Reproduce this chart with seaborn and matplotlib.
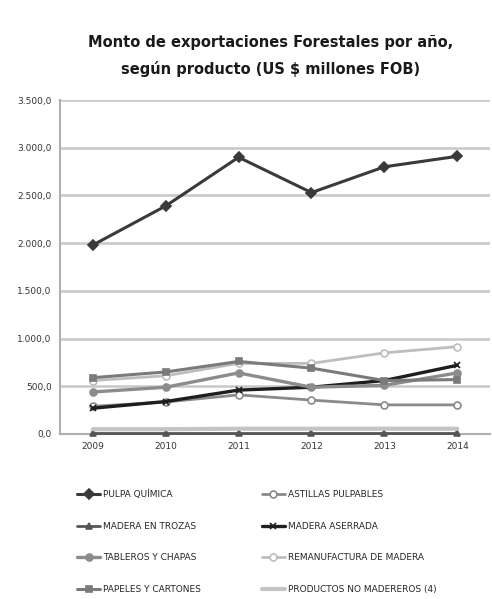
import matplotlib
matplotlib.use("Agg")
import matplotlib.pyplot as plt
import pandas as pd
import seaborn as sns
from matplotlib.ticker import FuncFormatter

YEARS = [2009, 2010, 2011, 2012, 2013, 2014]

PULPA_QUIMICA = [1980, 2390, 2900, 2530, 2800, 2910]
ASTILLAS_PULPABLES = [290, 335, 410, 355, 305, 305]
MADERA_EN_TROZAS = [10, 10, 10, 10, 10, 10]
MADERA_ASERRADA = [270, 340, 460, 490, 560, 720]
TABLEROS_Y_CHAPAS = [440, 490, 640, 490, 510, 640]
REMANUFACTURA = [560, 610, 740, 740, 850, 915]
PAPELES_Y_CARTONES = [590, 650, 760, 690, 560, 570]
NO_MADEREROS = [50, 50, 55, 55, 55, 55]

SERIES = [
    ("PULPA QUÍMICA", PULPA_QUIMICA),
    ("ASTILLAS PULPABLES", ASTILLAS_PULPABLES),
    ("MADERA EN TROZAS", MADERA_EN_TROZAS),
    ("MADERA ASERRADA", MADERA_ASERRADA),
    ("TABLEROS Y CHAPAS", TABLEROS_Y_CHAPAS),
    ("REMANUFACTURA DE MADERA", REMANUFACTURA),
    ("PAPELES Y CARTONES", PAPELES_Y_CARTONES),
    ("PRODUCTOS NO MADEREROS (4)", NO_MADEREROS),
]

# color, marker, line width, filled marker
STYLE = {
    "PULPA QUÍMICA": ("#3a3a3a", "D", 2.2, True),
    "ASTILLAS PULPABLES": ("#8a8a8a", "o", 2.0, False),
    "MADERA EN TROZAS": ("#555555", "^", 2.0, True),
    "MADERA ASERRADA": ("#1e1e1e", "x", 2.4, True),
    "TABLEROS Y CHAPAS": ("#8c8c8c", "o", 2.4, True),
    "REMANUFACTURA DE MADERA": ("#bdbdbd", "o", 2.0, False),
    "PAPELES Y CARTONES": ("#7a7a7a", "s", 2.2, True),
    "PRODUCTOS NO MADEREROS (4)": ("#c4c4c4", None, 3.0, True),
}

rows = []
for name, vals in SERIES:
    for y, v in zip(YEARS, vals):
        rows.append({"anio": y, "valor": v, "producto": name})
df = pd.DataFrame(rows)

sns.set_theme(style="white")
plt.rcParams["font.family"] = ["DejaVu Sans"]

fig = plt.figure(figsize=(4.92, 5.99), dpi=100)
ax = fig.add_axes([0.122, 0.2755, 0.874, 0.5575])

for name, _ in SERIES:
    color, marker, lw, filled = STYLE[name]
    sub = df[df["producto"] == name]
    sns.lineplot(
        data=sub, x="anio", y="valor", ax=ax, color=color, linewidth=lw,
        marker=marker, markersize=5, markeredgecolor=color,
        markerfacecolor=color if filled else "white",
        markeredgewidth=1.2, label=name, clip_on=False, zorder=3,
    )

ax.set_ylim(0, 3500)
ax.set_xlim(2008.55, 2014.45)
ax.set_yticks(range(0, 3501, 500))
ax.set_xticks(YEARS)
ax.yaxis.set_major_formatter(FuncFormatter(
    lambda v, _: f"{v:,.1f}".replace(",", "X").replace(".", ",").replace("X", ".")
))
ax.grid(axis="y", color="#c8c8c8", linewidth=1.8)
ax.set_axisbelow(True)
for side in ["top", "right"]:
    ax.spines[side].set_visible(False)
ax.spines["left"].set_color("#b0b0b0")
ax.spines["bottom"].set_color("#b0b0b0")
ax.spines["left"].set_linewidth(1.5)
ax.spines["bottom"].set_linewidth(1.5)
ax.tick_params(axis="both", labelsize=6.5, colors="#333333", length=0, pad=6)
ax.set_xlabel("")
ax.set_ylabel("")

ax.get_legend().remove()
handles, labels = ax.get_legend_handles_labels()
order = [0, 2, 4, 6, 1, 3, 5, 7]
fig.legend(
    [handles[i] for i in order], [labels[i] for i in order],
    ncol=2, loc="upper left", bbox_to_anchor=(0.14, 0.196),
    frameon=False, fontsize=6.5, handlelength=2.6, handletextpad=0.3,
    labelspacing=2.5, columnspacing=6.7,
)

fig.text(0.55, 0.907, "Monto de exportaciones Forestales por año,\nsegún producto (US $ millones FOB)",
         ha="center", va="center", fontsize=10.5, fontweight="bold",
         linespacing=1.85, color="#1a1a1a")

fig.savefig("out.png", dpi=100)
